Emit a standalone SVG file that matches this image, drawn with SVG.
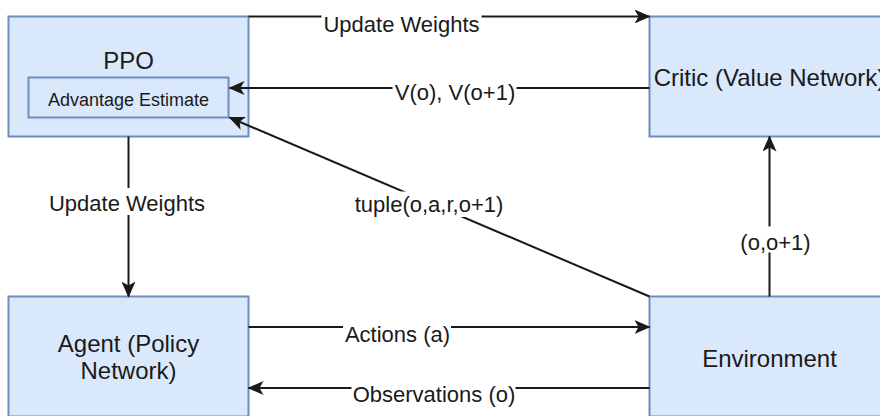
<svg xmlns="http://www.w3.org/2000/svg" width="880" height="416" viewBox="0 0 880 416">
<style>
.box{fill:#dae8fc;stroke:#6c8ebf;stroke-width:2}
.nt{font-family:"Liberation Sans",Arial,sans-serif;font-size:24px;fill:#1a1a1a;text-anchor:middle}
.st{font-family:"Liberation Sans",Arial,sans-serif;font-size:18px;fill:#1a1a1a;text-anchor:middle}
.el{font-family:"Liberation Sans",Arial,sans-serif;font-size:22px;fill:#1a1a1a;text-anchor:middle}
.ln{fill:none;stroke:#1a1a1a;stroke-width:2}
.bg{fill:#ffffff}
</style>
<defs>
<marker id="arr" viewBox="0 0 16 14" markerWidth="16" markerHeight="14" refX="15" refY="7" orient="auto" markerUnits="userSpaceOnUse">
<path d="M0,0 L16,7 L0,14 L4,7 Z" fill="#1a1a1a"/>
</marker>
</defs>
<rect width="880" height="416" fill="#ffffff"/>
<g id="ppo">
<rect class="box" x="8.5" y="16.5" width="240" height="120"/>
<text class="nt" x="128.5" y="69">PPO</text>
</g>
<g id="advantage">
<rect class="box" x="28.5" y="77.5" width="200" height="40"/>
<text class="st" x="128.5" y="106">Advantage Estimate</text>
</g>
<g id="critic">
<rect class="box" x="649.5" y="16.5" width="240" height="120"/>
<text class="nt" x="769.5" y="85.5">Critic (Value Network)</text>
</g>
<g id="agent">
<rect class="box" x="8.5" y="296.5" width="240" height="120"/>
<text class="nt" x="128.5" y="351.5">Agent (Policy</text>
<text class="nt" x="128.5" y="379">Network)</text>
</g>
<g id="environment">
<rect class="box" x="649.5" y="296.5" width="240" height="120"/>
<text class="nt" x="769.5" y="366.5">Environment</text>
</g>
<g id="connectors">
<path class="ln" d="M248.5,16.5 H649.5" marker-end="url(#arr)"/>
<rect class="bg" x="321.5" y="10" width="160" height="26"/>
<text class="el" x="401.5" y="31.5">Update Weights</text>

<path class="ln" d="M649.5,88 H229.5" marker-end="url(#arr)"/>
<rect class="bg" x="392.5" y="80" width="124" height="26"/>
<text class="el" x="455" y="100">V(o), V(o+1)</text>

<path class="ln" d="M649.5,296.5 L229.5,117.5" marker-end="url(#arr)"/>
<rect class="bg" x="354" y="191.5" width="152" height="25.5"/>
<text class="el" x="429" y="212">tuple(o,a,r,o+1)</text>

<path class="ln" d="M128.5,136.5 V296.5" marker-end="url(#arr)"/>
<rect class="bg" x="49" y="188" width="158" height="27"/>
<text class="el" x="127" y="211">Update Weights</text>

<path class="ln" d="M769.5,296.5 V136.5" marker-end="url(#arr)"/>
<rect class="bg" x="739" y="226.5" width="74" height="26"/>
<text class="el" x="775.5" y="250">(o,o+1)</text>

<path class="ln" d="M248.5,327 H649.5" marker-end="url(#arr)"/>
<rect class="bg" x="343" y="320" width="108" height="26"/>
<text class="el" x="397.5" y="341.5">Actions (a)</text>

<path class="ln" d="M649.5,388 H248.5" marker-end="url(#arr)"/>
<rect class="bg" x="351.5" y="382" width="164" height="26"/>
<text class="el" x="434" y="401.5">Observations (o)</text>
</g>
</svg>
